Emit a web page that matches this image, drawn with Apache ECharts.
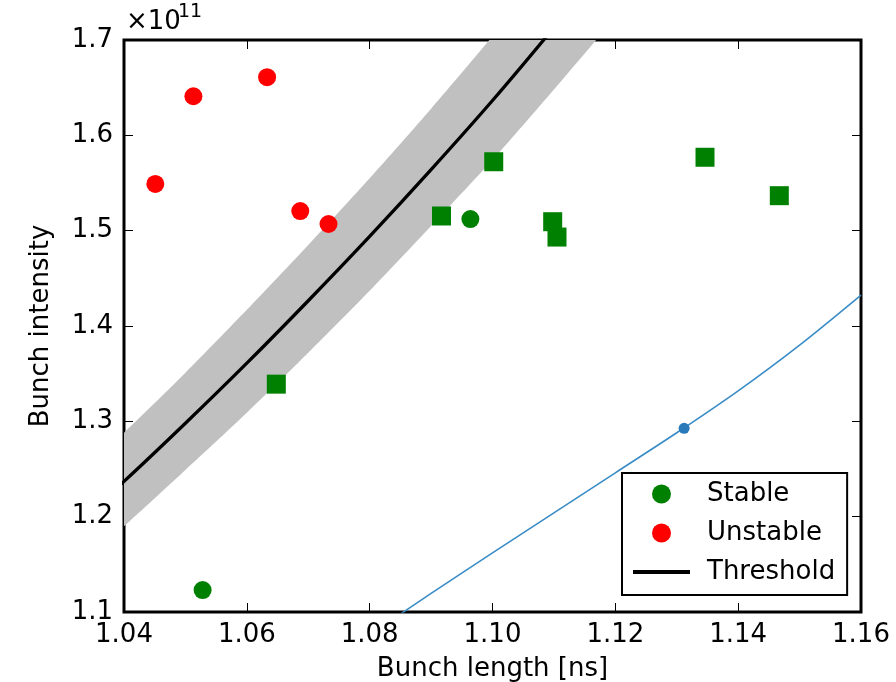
<!DOCTYPE html>
<html>
<head>
<meta charset="utf-8">
<script src="https://cdn.jsdelivr.net/npm/echarts@6/dist/echarts.min.js"></script>
<style>
  html, body { margin: 0; padding: 0; background: #fff; }
  #chart { width: 896px; height: 682px; }
</style>
</head>
<body>
<div id="chart"></div>
<script>
  // measured points, bunch length [ns] / intensity [1e11]
  var unstableX = [1.0451, 1.0513, 1.0633, 1.0687, 1.0733];
  var unstableY = [1.549, 1.641, 1.661, 1.5206, 1.507];

  var stableCircleX = [1.0528, 1.0964];
  var stableCircleY = [1.123, 1.5122];

  var stableSquareX = [1.0648, 1.0917, 1.1002, 1.1098, 1.1105, 1.1346, 1.1467];
  var stableSquareY = [1.339, 1.5154, 1.5723, 1.5094, 1.4933, 1.577, 1.5367];

  // threshold curve and its uncertainty band (end points sit outside the frame)
  var thrX = [1.03, 1.04, 1.05, 1.06, 1.07, 1.08, 1.09, 1.10, 1.11, 1.12, 1.13];
  var thrY = [1.179, 1.237, 1.298, 1.361, 1.4265, 1.494, 1.564, 1.6365, 1.713, 1.792, 1.873];
  var bandUpper = [1.227, 1.288, 1.351, 1.417, 1.485, 1.555, 1.628, 1.704, 1.783, 1.865, 1.950];
  var bandLower = [1.134, 1.190, 1.249, 1.309, 1.372, 1.437, 1.505, 1.574, 1.648, 1.724, 1.802];

  // blue curve + marker
  var blueX = [1.08, 1.09, 1.10, 1.11, 1.12, 1.13, 1.14, 1.15, 1.16];
  var blueY = [1.076, 1.1195, 1.162, 1.204, 1.246, 1.288, 1.332, 1.380, 1.4325];
  var blueDot = [1.1312, 1.2927];

  var xTicks = { min: 1.04, max: 1.16, step: 0.02 };
  var yTicks = { min: 1.1, max: 1.7, step: 0.1 };

  function pairs(xs, ys) {
    var out = [];
    for (var i = 0; i < xs.length; i++) out.push([xs[i], ys[i]]);
    return out;
  }

  var FONT = 'DejaVu Sans';
  var chart = echarts.init(document.getElementById('chart'));

  function axisBase(pos, showLabel) {
    return {
      type: 'value',
      position: pos,
      axisLine: { show: false },
      axisTick: { show: true, inside: true, length: 9, lineStyle: { color: '#000', width: 1 } },
      splitLine: { show: false },
      axisLabel: { show: showLabel, color: '#000', fontSize: 26, fontFamily: FONT }
    };
  }

  var xMain = axisBase('bottom', true);
  xMain.min = xTicks.min; xMain.max = xTicks.max; xMain.interval = xTicks.step;
  xMain.axisLabel.margin = 10;
  xMain.axisLabel.formatter = function (v) { return v.toFixed(2); };
  xMain.name = 'Bunch length [ns]';
  xMain.nameLocation = 'middle';
  xMain.nameGap = 44;
  xMain.nameTextStyle = { color: '#000', fontSize: 26, fontFamily: FONT };

  var xTop = axisBase('top', false);
  xTop.min = xTicks.min; xTop.max = xTicks.max; xTop.interval = xTicks.step;

  var yMain = axisBase('left', true);
  yMain.min = yTicks.min; yMain.max = yTicks.max; yMain.interval = yTicks.step;
  yMain.axisLabel.margin = 11;
  yMain.axisLabel.formatter = function (v) { return v.toFixed(1); };
  yMain.name = 'Bunch intensity';
  yMain.nameLocation = 'middle';
  yMain.nameGap = 70;
  yMain.nameTextStyle = { color: '#000', fontSize: 26, fontFamily: FONT };

  var yRight = axisBase('right', false);
  yRight.min = yTicks.min; yRight.max = yTicks.max; yRight.interval = yTicks.step;

  var option = {
    animation: false,
    backgroundColor: '#fff',
    textStyle: { fontFamily: FONT },
    grid: {
      left: 124, right: 35, top: 40, bottom: 70,
      outerBoundsMode: 'none',
      containLabel: false,
      show: true, borderColor: '#000', borderWidth: 3, backgroundColor: 'transparent'
    },
    xAxis: [xMain, xTop],
    yAxis: [yMain, yRight],
    legend: {
      orient: 'vertical',
      left: 622, top: 473,
      backgroundColor: '#fff',
      borderColor: '#000', borderWidth: 2, borderRadius: 0,
      padding: [8, 12, 10, 9],
      itemWidth: 57, itemHeight: 19, itemGap: 13,
      textStyle: { color: '#000', fontSize: 26, fontFamily: FONT, lineHeight: 26, padding: [0, 0, 0, 12] },
      data: [
        'Stable',
        'Unstable',
        { name: 'Threshold', itemStyle: { opacity: 0 }, lineStyle: { color: '#000', width: 4 } }
      ]
    },
    graphic: [
      { type: 'text', left: 126, top: 9,
        style: { text: '×10', fill: '#000', font: '26px "DejaVu Sans"' } },
      { type: 'text', left: 178, top: 3,
        style: { text: '11', fill: '#000', font: '19px "DejaVu Sans"' } }
    ],
    series: [
      {
        name: 'band',
        type: 'custom',
        clip: true,
        silent: true,
        z: 1,
        data: [[thrX[1], thrY[1]]],
        renderItem: function (params, api) {
          var upper = [], lower = [];
          for (var i = 0; i < thrX.length; i++) {
            upper.push(api.coord([thrX[i], bandUpper[i]]));
            lower.push(api.coord([thrX[i], bandLower[i]]));
          }
          return {
            type: 'polygon',
            shape: { points: upper.concat(lower.reverse()), smooth: 0.25 },
            style: { fill: '#c0c0c0', stroke: null }
          };
        }
      },
      {
        name: 'Threshold',
        type: 'line',
        z: 2,
        symbol: 'none',
        smooth: 0.3,
        data: pairs(thrX, thrY),
        lineStyle: { color: '#000', width: 3.3 },
        itemStyle: { color: '#000' }
      },
      {
        name: 'model',
        type: 'line',
        z: 2,
        symbol: 'none',
        smooth: 0.3,
        data: pairs(blueX, blueY),
        lineStyle: { color: '#3a8cc6', width: 1.6 }
      },
      {
        name: 'model point',
        type: 'scatter',
        z: 3,
        symbolSize: 11,
        data: [blueDot],
        itemStyle: { color: '#2a7ab9', opacity: 1 }
      },
      {
        name: 'Stable',
        type: 'scatter',
        z: 4,
        symbol: 'circle',
        symbolSize: 18,
        data: pairs(stableCircleX, stableCircleY),
        itemStyle: { color: '#008000', opacity: 1 }
      },
      {
        name: 'Stable squares',
        type: 'scatter',
        z: 4,
        symbol: 'rect',
        symbolSize: 19,
        data: pairs(stableSquareX, stableSquareY),
        itemStyle: { color: '#008000', opacity: 1 }
      },
      {
        name: 'Unstable',
        type: 'scatter',
        z: 4,
        symbol: 'circle',
        symbolSize: 18,
        data: pairs(unstableX, unstableY),
        itemStyle: { color: '#ff0000', opacity: 1 }
      }
    ]
  };

  chart.setOption(option);
</script>
</body>
</html>
